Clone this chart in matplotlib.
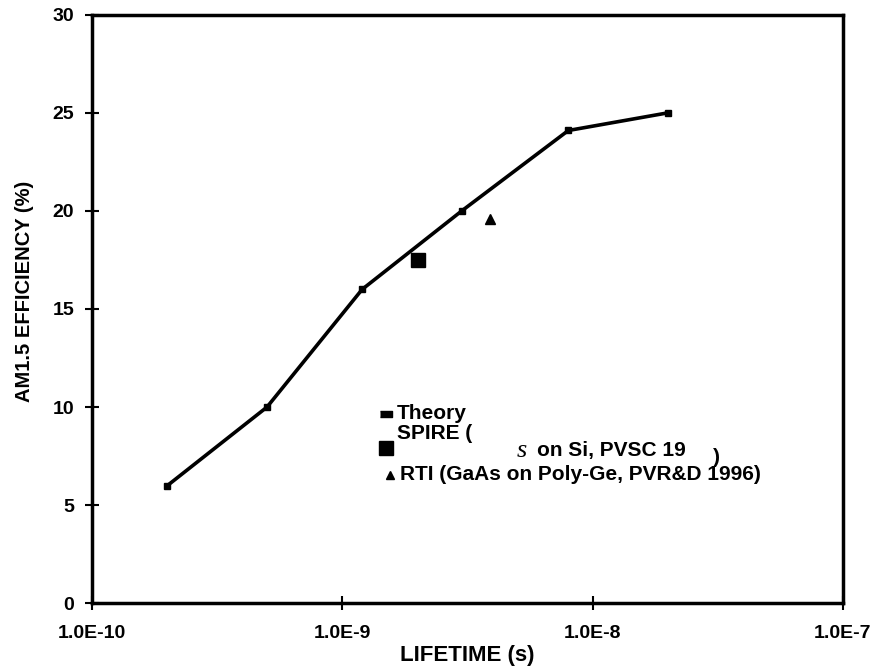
import numpy as np
import matplotlib
matplotlib.use("Agg")
import matplotlib.pyplot as plt

plt.rcParams.update({
    "font.family": "Liberation Sans",
    "font.weight": "bold",
    "font.size": 14,
})

# theory curve
theory_tau = [2e-10, 5e-10, 1.2e-9, 3e-9, 8e-9, 2e-8]
theory_eff = [6.0, 10.0, 16.0, 20.0, 24.1, 25.0]

# measured cells
spire_tau = [2e-9]
spire_eff = [17.5]
rti_tau = [3.9e-9]
rti_eff = [19.6]

xticks = [1e-10, 1e-9, 1e-8, 1e-7]
xtick_labels = ["1.0E-10", "1.0E-9", "1.0E-8", "1.0E-7"]
yticks = [0, 5, 10, 15, 20, 25, 30]

fig = plt.figure(figsize=(8.77, 6.71), dpi=100)
ax = fig.add_axes([0.105, 0.101, 0.856, 0.877])

ax.plot(theory_tau, theory_eff, color="black", lw=2.6, marker="s", ms=4,
        solid_capstyle="butt")
ax.plot(spire_tau, spire_eff, ls="none", marker="s", ms=10, color="black")
ax.plot(rti_tau, rti_eff, ls="none", marker="^", ms=7, color="black")

ax.set_xscale("log")
ax.set_xlim(1e-10, 1e-7)
ax.set_ylim(0, 30)
ax.set_xticks(xticks)
ax.set_xticklabels(xtick_labels)
ax.minorticks_off()
ax.set_yticks(yticks)
ax.tick_params(direction="inout", length=10, width=1.5, labelsize=14, pad=8)
ax.tick_params(axis="x", pad=11)
for sp in ax.spines.values():
    sp.set_linewidth(2.5)

ax.set_xlabel("LIFETIME (s)", fontsize=16, fontweight="bold")
ax.xaxis.set_label_coords(0.5, -0.071)
ax.set_ylabel("AM1.5 EFFICIENCY (%)", fontsize=14.5, fontweight="bold")
ax.yaxis.set_label_coords(-0.078, 0.53)

# hand-placed legend, as in the original
tr = ax.transAxes
fs = 15
dash = [(-1, -0.6), (1, -0.6), (1, 0.6), (-1, 0.6)]
ax.plot([0.392], [0.321], marker=dash, ms=8, color="black", transform=tr, clip_on=False)
ax.text(0.406, 0.323, "Theory", transform=tr, va="center", fontsize=fs)
ax.plot([0.391], [0.264], marker="s", ms=10, color="black", transform=tr, clip_on=False)
ax.text(0.406, 0.289, "SPIRE (", transform=tr, va="center", fontsize=fs)
ax.text(0.566, 0.258, "s", transform=tr, va="center", fontsize=19,
        family="Liberation Serif", style="italic", weight="normal")
ax.text(0.593, 0.260, "on Si, PVSC 19", transform=tr, va="center", fontsize=fs)
ax.text(0.827, 0.248, ")", transform=tr, va="center", fontsize=fs)
ax.plot([0.397], [0.218], marker="^", ms=6, color="black", transform=tr, clip_on=False)
ax.text(0.410, 0.218, "RTI (GaAs on Poly-Ge, PVR&D 1996)", transform=tr,
        va="center", fontsize=fs)

fig.savefig("out.png", dpi=100, facecolor="white")
